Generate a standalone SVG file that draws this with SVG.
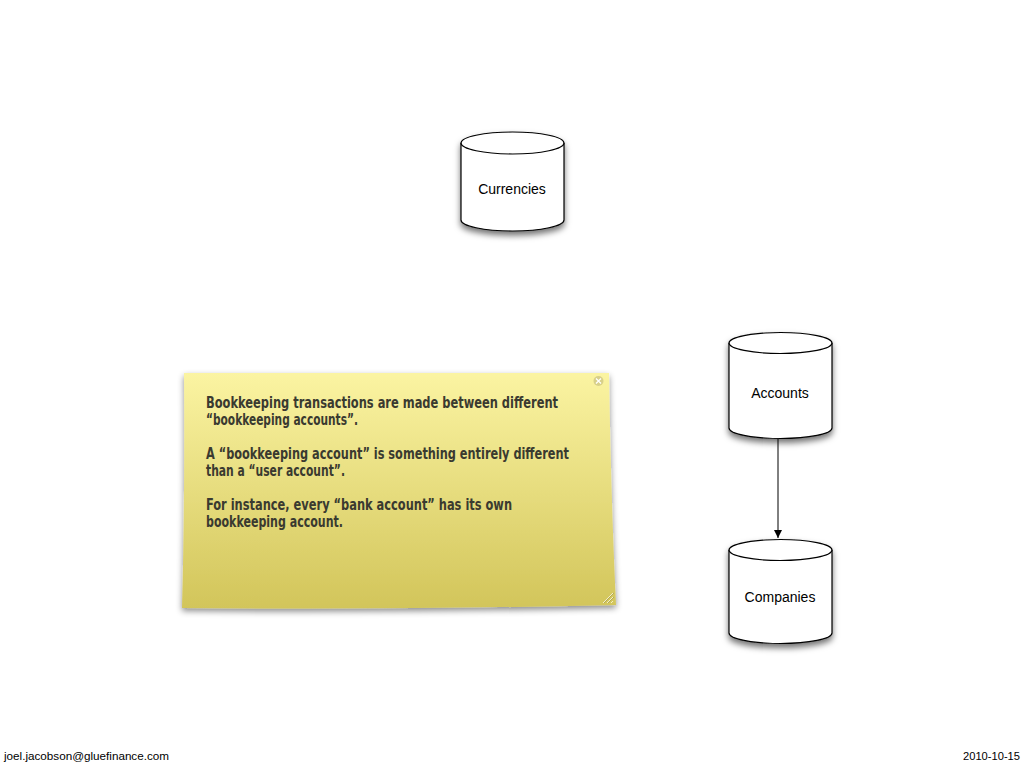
<svg xmlns="http://www.w3.org/2000/svg" width="1024" height="768" viewBox="0 0 1024 768">
<style>
.cyl{fill:#fff;stroke:#000;stroke-width:1.2}
.lbl{font-family:"Liberation Sans",Arial,sans-serif;font-size:14px;fill:#000;text-anchor:middle}
.note{font-family:"DejaVu Sans Condensed","DejaVu Sans",sans-serif;font-weight:bold;font-size:15px;fill:#3a3a30}
.foot{font-family:"Liberation Sans",Arial,sans-serif;font-size:11px;fill:#000}
.conn{stroke:#000;stroke-width:1;fill:none}
</style>
<defs>
<filter id="sh" x="-20%" y="-20%" width="140%" height="150%">
<feDropShadow dx="0" dy="4" stdDeviation="3" flood-color="#000" flood-opacity="0.55"/>
</filter>
<filter id="nsh" x="-10%" y="-10%" width="120%" height="125%">
<feDropShadow dx="0" dy="3" stdDeviation="3" flood-color="#000" flood-opacity="0.45"/>
</filter>
<linearGradient id="ng" x1="0" y1="0" x2="0" y2="1">
<stop offset="0" stop-color="#fbf4a2"/>
<stop offset="1" stop-color="#d2c55a"/>
</linearGradient>
<marker id="ar" markerWidth="10" markerHeight="10" refX="8" refY="4" orient="auto" markerUnits="userSpaceOnUse">
<path d="M0,0 L8,4 L0,8 Z" fill="#000"/>
</marker>
</defs>
<rect width="1024" height="768" fill="#fff"/>

<g id="currencies">
<path class="cyl" filter="url(#sh)" d="M461,143 L461,220 A51.5,11 0 0 0 564,220 L564,143 A51.5,11 0 0 0 461,143 Z"/>
<path class="cyl" d="M461,143 A51.5,11 0 0 0 564,143"/>
<text class="lbl" x="512" y="194">Currencies</text>
</g>

<g id="accounts">
<path class="cyl" filter="url(#sh)" d="M729,343 L729,428 A51.5,10.5 0 0 0 832,428 L832,343 A51.5,10.5 0 0 0 729,343 Z"/>
<path class="cyl" d="M729,343 A51.5,10.5 0 0 0 832,343"/>
<text class="lbl" x="780" y="398">Accounts</text>
</g>

<g id="companies">
<path class="cyl" filter="url(#sh)" d="M729,550 L729,633 A51.5,10.5 0 0 0 832,633 L832,550 A51.5,10.5 0 0 0 729,550 Z"/>
<path class="cyl" d="M729,550 A51.5,10.5 0 0 0 832,550"/>
<text class="lbl" x="780" y="602">Companies</text>
</g>

<g id="connectors">
<line class="conn" x1="778" y1="439" x2="778" y2="538" marker-end="url(#ar)"/>
</g>

<g id="note">
<path filter="url(#nsh)" fill="url(#ng)" d="M184,373 L609,373 Q611,500 616,605 Q400,610 182,608 Q185,500 184,373 Z"/>
<circle cx="598.5" cy="381" r="5" fill="#d8d08a"/>
<path d="M596,378.5 L601,383.5 M601,378.5 L596,383.5" stroke="#fff" stroke-width="1.3"/>
<path d="M603,603 L613,593 M607,603 L613,597 M611,603 L613,601" stroke="#f4f0c8" stroke-width="1"/>
<path d="M604,603 L614,593 M608,603 L614,597" stroke="#9c9450" stroke-width="0.6"/>
<text class="note" x="206" y="408" textLength="352" lengthAdjust="spacingAndGlyphs">Bookkeeping transactions are made between different</text>
<text class="note" x="206" y="425" textLength="152" lengthAdjust="spacingAndGlyphs">“bookkeeping accounts”.</text>
<text class="note" x="206" y="459" textLength="363" lengthAdjust="spacingAndGlyphs">A “bookkeeping account” is something entirely different</text>
<text class="note" x="206" y="476" textLength="139" lengthAdjust="spacingAndGlyphs">than a “user account”.</text>
<text class="note" x="206" y="510" textLength="306" lengthAdjust="spacingAndGlyphs">For instance, every “bank account” has its own</text>
<text class="note" x="206" y="527" textLength="137" lengthAdjust="spacingAndGlyphs">bookkeeping account.</text>
</g>

<text class="foot" x="4" y="760" textLength="165" lengthAdjust="spacingAndGlyphs">joel.jacobson@gluefinance.com</text>
<text class="foot" x="963" y="760" textLength="57" lengthAdjust="spacingAndGlyphs">2010-10-15</text>
</svg>
